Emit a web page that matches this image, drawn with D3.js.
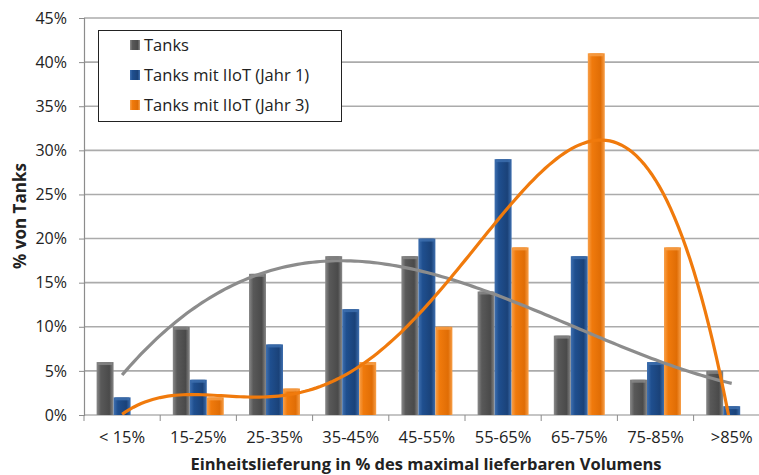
<!DOCTYPE html>
<html>
<head>
<meta charset="utf-8">
<script src="https://cdn.jsdelivr.net/npm/d3@7"></script>
<style>
  body { margin: 0; background: #fff; }
  svg text { font-family: "Open Sans", "Noto Sans", sans-serif; fill: #222; }
</style>
</head>
<body>
<svg id="chart" width="759" height="475"></svg>
<script>
    var categories = ["< 15%", "15-25%", "25-35%", "35-45%", "45-55%", "55-65%", "65-75%", "75-85%", ">85%"];
    var tanks = [6, 10, 16, 18, 18, 14, 9, 4, 5];
    var tanksIiot1 = [2, 4, 8, 12, 20, 29, 18, 6, 1];
    var tanksIiot3 = [0, 2, 3, 6, 10, 19, 41, 19, 0];
    var yTicks = [0, 5, 10, 15, 20, 25, 30, 35, 40, 45];

(function () {
    var series = [
        { name: "Tanks", values: tanks, color: "#595959", light: "#8a8a8a", dark: "#4a4a4a" },
        { name: "Tanks mit IIoT (Jahr 1)", values: tanksIiot1, color: "#1f4f8f", light: "#3f70b0", dark: "#1a4279" },
        { name: "Tanks mit IIoT (Jahr 3)", values: tanksIiot3, color: "#f07a0c", light: "#f8a04a", dark: "#e06d05" }
    ];

    var plotLeft = 84, plotTop = 18, plotBottom = 415, band = 76.2;
    var svg = d3.select("#chart");

    var x = d3.scaleBand().domain(categories).range([plotLeft, plotLeft + band * categories.length]);
    var y = d3.scaleLinear().domain([0, 45]).range([plotBottom, plotTop]);
    var barW = 17;

    // gradients for the bars
    var defs = svg.append("defs");
    series.forEach(function (s, i) {
        var g = defs.append("linearGradient").attr("id", "grad" + i)
            .attr("x1", "0").attr("x2", "1").attr("y1", "0").attr("y2", "0");
        g.append("stop").attr("offset", "0%").attr("stop-color", s.light);
        g.append("stop").attr("offset", "25%").attr("stop-color", s.color);
        g.append("stop").attr("offset", "75%").attr("stop-color", s.dark);
        g.append("stop").attr("offset", "100%").attr("stop-color", s.light);
    });

    // grid
    svg.append("g").selectAll("line").data(yTicks.slice(1)).enter().append("line")
        .attr("x1", plotLeft).attr("x2", 759)
        .attr("y1", function (d) { return y(d); }).attr("y2", function (d) { return y(d); })
        .attr("stroke", "#ababab").attr("stroke-width", 1.6);

    // y axis
    var yAxis = svg.append("g").attr("transform", "translate(" + plotLeft + ",0)")
        .call(d3.axisLeft(y).tickValues(yTicks).tickFormat(function (d) { return d + "%"; }).tickSizeOuter(0).tickSize(5).tickPadding(12));
    yAxis.select(".domain").attr("stroke", "#8c8c8c").attr("stroke-width", 1.2);
    yAxis.selectAll(".tick line").attr("stroke", "#8c8c8c");
    yAxis.selectAll("text").style("font-size", "16px").attr("fill", "#333");

    // x axis
    var boundaries = d3.range(categories.length + 1).map(function (i) { return plotLeft + i * band; });
    svg.append("line").attr("x1", plotLeft).attr("x2", 759).attr("y1", plotBottom).attr("y2", plotBottom)
        .attr("stroke", "#8c8c8c").attr("stroke-width", 1.2);
    svg.append("g").selectAll("line").data(boundaries).enter().append("line")
        .attr("x1", function (d) { return d; }).attr("x2", function (d) { return d; })
        .attr("y1", plotBottom).attr("y2", plotBottom + 6).attr("stroke", "#8c8c8c");
    svg.append("g").selectAll("text").data(categories).enter().append("text")
        .attr("x", function (d) { return x(d) + band / 2; }).attr("y", plotBottom + 28)
        .attr("text-anchor", "middle").style("font-size", "16.5px").attr("fill", "#333")
        .text(function (d) { return d; });

    // bars
    series.forEach(function (s, i) {
        var g = svg.append("g");
        var off = band / 2 - 1.5 * barW + i * barW;
        g.selectAll("rect.bar").data(s.values).enter().append("rect").attr("class", "bar")
            .attr("x", function (d, j) { return x(categories[j]) + off; })
            .attr("y", function (d) { return y(d); })
            .attr("width", barW)
            .attr("height", function (d) { return plotBottom - y(d); })
            .attr("fill", "url(#grad" + i + ")");
        g.selectAll("rect.cap").data(s.values).enter().append("rect").attr("class", "cap")
            .attr("x", function (d, j) { return x(categories[j]) + off + 1.5; })
            .attr("y", function (d) { return y(d); })
            .attr("width", barW - 3).attr("height", function (d) { return d > 0 ? 3 : 0; })
            .attr("fill", s.light).attr("opacity", 0.8);
    });

    // polynomial trendlines (least squares, as in Excel)
    function polyfit(xs, ys, order) {
        var n = order + 1, A = [], b = [];
        for (var r = 0; r < n; r++) {
            A.push([]);
            for (var c = 0; c < n; c++) A[r].push(d3.sum(xs, function (v) { return Math.pow(v, r + c); }));
            b.push(d3.sum(xs, function (v, k) { return ys[k] * Math.pow(v, r); }));
        }
        for (var p = 0; p < n; p++) {
            for (var q = p + 1; q < n; q++) {
                var f = A[q][p] / A[p][p];
                for (var c2 = p; c2 < n; c2++) A[q][c2] -= f * A[p][c2];
                b[q] -= f * b[p];
            }
        }
        var coef = new Array(n);
        for (var i2 = n - 1; i2 >= 0; i2--) {
            var s2 = b[i2];
            for (var j2 = i2 + 1; j2 < n; j2++) s2 -= A[i2][j2] * coef[j2];
            coef[i2] = s2 / A[i2][i2];
        }
        return function (t) { return d3.sum(coef, function (cf, k) { return cf * Math.pow(t, k); }); };
    }

    var xs = d3.range(1, categories.length + 1);
    var xt = d3.scaleLinear().domain([1, categories.length]).range([plotLeft + band / 2, plotLeft + band * (categories.length - 0.5)]);
    var trends = [
        { fn: polyfit(xs, tanks, 3), color: "#8c8c8c" },
        { fn: polyfit(xs, tanksIiot3, 4), color: "#f07a0c" }
    ];
    svg.append("clipPath").attr("id", "plotClip").append("rect")
        .attr("x", plotLeft).attr("y", plotTop).attr("width", 759 - plotLeft).attr("height", plotBottom - plotTop);
    trends.forEach(function (t) {
        var pts = d3.range(1, categories.length + 0.001, 0.05).map(function (v) { return [xt(v), y(t.fn(v))]; });
        svg.append("path").attr("d", d3.line()(pts))
            .attr("clip-path", "url(#plotClip)")
            .attr("fill", "none").attr("stroke", t.color).attr("stroke-width", 3.2);
    });

    // legend
    var legend = svg.append("g");
    legend.append("rect").attr("x", 98.5).attr("y", 30.5).attr("width", 243).attr("height", 91)
        .attr("fill", "#fff").attr("stroke", "#222").attr("stroke-width", 1);
    series.forEach(function (s, i) {
        var ly = 45 + i * 30;
        legend.append("rect").attr("x", 130).attr("y", ly - 5).attr("width", 10).attr("height", 10)
            .attr("fill", "url(#grad" + i + ")");
        legend.append("text").attr("x", 144).attr("y", ly + 6).style("font-size", "16.5px").text(s.name);
    });

    // axis titles
    svg.append("text").attr("x", 426).attr("y", 470).attr("text-anchor", "middle")
        .style("font-size", "16.5px").style("font-weight", "bold").attr("fill", "#111")
        .text("Einheitslieferung in % des maximal lieferbaren Volumens");
    svg.append("text").attr("transform", "translate(26,216) rotate(-90)").attr("text-anchor", "middle")
        .style("font-size", "17px").style("font-weight", "bold").attr("fill", "#111")
        .text("% von Tanks");
})();
</script>
</body>
</html>
